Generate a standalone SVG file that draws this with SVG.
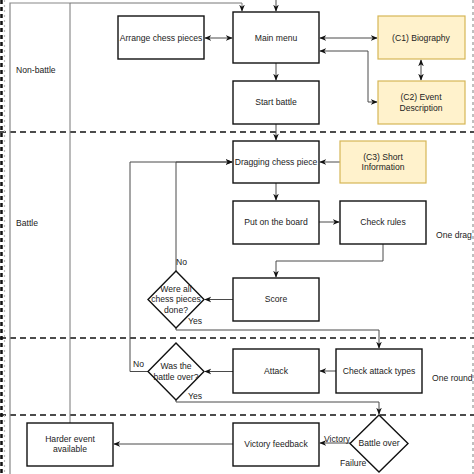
<svg xmlns="http://www.w3.org/2000/svg" width="474" height="474" viewBox="0 0 474 474">
<style>
.n{fill:#fff;stroke:#111;stroke-width:1.4}
.y{fill:#fff2cc;stroke:#d6b656;stroke-width:1.2}
.t{font-family:"Liberation Sans",Arial,sans-serif;font-size:8.6px;fill:#222;text-anchor:middle}
.l{font-family:"Liberation Sans",Arial,sans-serif;font-size:8.6px;fill:#222}
.c{fill:none;stroke:#4a4a4a;stroke-width:1}
.lane{fill:none;stroke:#888;stroke-width:1.2}
.hd{stroke:#111;stroke-width:1.5;stroke-dasharray:6,4}
.vd{stroke:#aaa;stroke-width:1.5;stroke-dasharray:3,3}
</style>
<defs>
<marker id="a" viewBox="0 0 10 10" refX="9" refY="5" markerWidth="7" markerHeight="7" orient="auto-start-reverse" markerUnits="userSpaceOnUse">
<path d="M0,1 L10,5 L0,9 L3,5 Z" fill="#111"/>
</marker>
</defs>
<rect width="474" height="474" fill="#fff"/>
<g id="lanes">
<line class="hd" x1="0" y1="132" x2="474" y2="132"/>
<line class="hd" x1="0" y1="338" x2="474" y2="338"/>
<line class="hd" x1="0" y1="415" x2="474" y2="415"/>
<line x1="1.5" y1="0" x2="1.5" y2="474" stroke="#111" stroke-width="2.5" stroke-dasharray="4,3"/>
<line x1="4.5" y1="0" x2="4.5" y2="474" stroke="#bbb" stroke-width="1.2" stroke-dasharray="2,3"/>
<line class="vd" x1="473" y1="0" x2="473" y2="128"/>
<line class="vd" x1="473" y1="140" x2="473" y2="334"/>
<line class="vd" x1="473" y1="345" x2="473" y2="410"/>
<line class="vd" x1="473" y1="424" x2="473" y2="474"/>
<path class="lane" d="M10,474 V3 H70"/>
<text class="l" x="16" y="73">Non-battle</text>
<text class="l" x="16" y="226">Battle</text>
<text class="l" x="436" y="238">One drag</text>
<text class="l" x="432" y="381">One round</text>
</g>
<g id="connectors">
<path class="c" d="M70,423 V3 H242 V11" marker-end="url(#a)" style="stroke:#777"/>
<path class="c" d="M276,0 V11" marker-end="url(#a)"/>
<path class="c" d="M205,38 H232" marker-start="url(#a)" marker-end="url(#a)"/>
<path class="c" d="M320,38 H377" marker-start="url(#a)" marker-end="url(#a)"/>
<path class="c" d="M320,51 H368 V102 H377" marker-start="url(#a)" marker-end="url(#a)"/>
<path class="c" d="M421,60 V80" marker-start="url(#a)" marker-end="url(#a)"/>
<path class="c" d="M276,63 V80" marker-end="url(#a)"/>
<path class="c" d="M276,124 V140" marker-end="url(#a)"/>
<path class="c" d="M340,162 H320" marker-end="url(#a)"/>
<path class="c" d="M276,183 V200" marker-end="url(#a)"/>
<path class="c" d="M319,222 H339" marker-end="url(#a)"/>
<path class="c" d="M383,244 V261 H276 V277" marker-end="url(#a)"/>
<path class="c" d="M233,299.5 H205" marker-end="url(#a)"/>
<path class="c" d="M176,271 V162 H232" marker-end="url(#a)"/>
<path class="c" d="M176,328 V330 H379 V348" marker-end="url(#a)"/>
<path class="c" d="M336,371 H320" marker-end="url(#a)"/>
<path class="c" d="M233,371.5 H205" marker-end="url(#a)"/>
<path class="c" d="M148,371.5 H130 V162 H232" marker-end="url(#a)"/>
<path class="c" d="M176,400 V402 H379 V414" marker-end="url(#a)"/>
<path class="c" d="M350,443 H320" marker-end="url(#a)"/>
<path class="c" d="M233,444 H114" marker-end="url(#a)"/>
<text class="l" x="176" y="265">No</text>
<text class="l" x="188" y="324">Yes</text>
<text class="l" x="133" y="367">No</text>
<text class="l" x="188" y="399">Yes</text>
<text class="l" x="324" y="442">Victory</text>
<text class="l" x="340" y="466">Failure</text>
</g>
<g id="arrange"><rect class="n" x="118" y="16" width="86" height="43"/><text class="t" x="161" y="41">Arrange chess pieces</text></g>
<g id="mainmenu"><rect class="n" x="233" y="12" width="86" height="51"/><text class="t" x="276" y="41">Main menu</text></g>
<g id="startbattle"><rect class="n" x="233" y="81" width="86" height="43"/><text class="t" x="276" y="105">Start battle</text></g>
<g id="c1"><rect class="y" x="378" y="16" width="87" height="43"/><text class="t" x="421" y="41">(C1) Biography</text></g>
<g id="c2"><rect class="y" x="378" y="81" width="87" height="43"/><text class="t" x="421" y="100">(C2) Event</text><text class="t" x="421" y="111">Description</text></g>
<g id="dragging"><rect class="n" x="233" y="141" width="86" height="42"/><text class="t" x="276" y="165">Dragging chess piece</text></g>
<g id="c3"><rect class="y" x="340" y="141" width="86" height="42"/><text class="t" x="383" y="160">(C3) Short</text><text class="t" x="383" y="170">Information</text></g>
<g id="put"><rect class="n" x="233" y="201" width="86" height="43"/><text class="t" x="276" y="225">Put on the board</text></g>
<g id="checkrules"><rect class="n" x="340" y="201" width="86" height="43"/><text class="t" x="383" y="225">Check rules</text></g>
<g id="score"><rect class="n" x="233" y="278" width="86" height="43"/><text class="t" x="276" y="302">Score</text></g>
<g id="werealldone"><path class="n" d="M176,271 L204,299.5 L176,328 L148,299.5 Z"/><text class="t" x="176" y="292">Were all</text><text class="t" x="176" y="302">chess pieces</text><text class="t" x="176" y="313">done?</text></g>
<g id="checkattack"><rect class="n" x="336" y="349" width="86" height="44"/><text class="t" x="379" y="374">Check attack types</text></g>
<g id="attack"><rect class="n" x="233" y="349" width="86" height="44"/><text class="t" x="276" y="374">Attack</text></g>
<g id="wasover"><path class="n" d="M176,343 L204,371.5 L176,400 L148,371.5 Z"/><text class="t" x="176" y="369">Was the</text><text class="t" x="176" y="380">battle over?</text></g>
<g id="battleover"><path class="n" d="M379,415 L408,443.5 L379,472 L350,443.5 Z"/><text class="t" x="379" y="446">Battle over</text></g>
<g id="victory"><rect class="n" x="233" y="423" width="86" height="43"/><text class="t" x="276" y="447">Victory feedback</text></g>
<g id="harder"><rect class="n" x="27" y="423" width="86" height="43"/><text class="t" x="70" y="442">Harder event</text><text class="t" x="70" y="452">available</text></g>
</svg>
